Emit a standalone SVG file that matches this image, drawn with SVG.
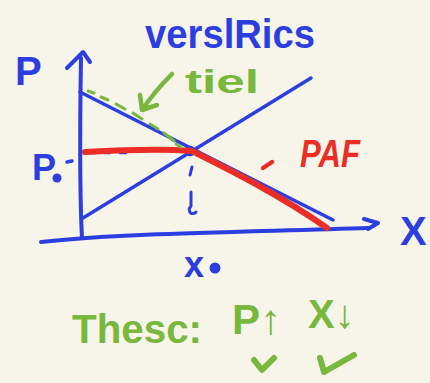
<svg xmlns="http://www.w3.org/2000/svg" width="430" height="383" viewBox="0 0 430 383">
<style>
.b{stroke:#2c3ee0;fill:none;stroke-linecap:round;stroke-linejoin:round}
.g{stroke:#78b83c;fill:none;stroke-linecap:round;stroke-linejoin:round}
.r{stroke:#ea2e26;fill:none;stroke-linecap:round;stroke-linejoin:round}
.t{font-family:"Liberation Sans",Arial,sans-serif;font-weight:bold}
.tb{fill:#2c3ee0}.tg{fill:#78b83c}.tr{fill:#ea2e26}
</style>
<rect width="430" height="383" fill="#f7f4ea"/>
<g id="axes">
<path class="b" stroke-width="4" d="M81,58 C80,120 79,180 82,238"/>
<path class="b" stroke-width="4" d="M67,68 L83,52 L90,62"/>
<path class="b" stroke-width="4" d="M41,242 C120,233 250,232 368,228"/>
<path class="b" stroke-width="4" d="M364,219 L378,223 L368,229"/>
</g>
<g id="demand"><path class="b" stroke-width="3.5" d="M80,92 L333,220"/></g>
<g id="supply"><path class="b" stroke-width="3.5" d="M83,218 L311,78"/></g>
<g id="guides">
<path class="b" stroke-width="2.5" d="M88,153 L96,153 M104,153 L110,153 M120,153 L126,153"/>
<path class="b" stroke-width="3" d="M192,167 L190,175 M191,192 L191,206 C186,212 193,216 196,212"/>
<circle cx="190" cy="151" r="4" class="b" stroke-width="2.5"/>
</g>
<g id="paf-line">
<path class="r" stroke-width="6" d="M85,152 C120,150 160,148 192,151 C230,170 280,195 327,228"/>
</g>
<g id="green-dash">
<path class="g" stroke-width="3" d="M88,91 L94,93 M101,97 L108,100 M116,104 L125,109 M133,113 L142,119 M150,124 L158,129 M164,133 L174,141 M176,144 L181,147"/>
</g>
<g id="green-arrow">
<path class="g" stroke-width="4.5" d="M172,74 C160,86 150,98 142,110 M140,95 L142,110 L157,105"/>
</g>
<g id="labels">
<text class="t tb" x="145" y="48" font-size="40" textLength="170" lengthAdjust="spacingAndGlyphs">verslRics</text>
<text class="t tg" x="185" y="93" font-size="34" textLength="74" lengthAdjust="spacingAndGlyphs">tiel</text>
<text class="t tb" x="15" y="85" font-size="40">P</text>
<text class="t tb" x="32" y="180" font-size="36">P</text>
<circle cx="57" cy="178" r="4.5" fill="#2c3ee0"/>
<path class="b" stroke-width="3.5" d="M67,162 L72,161"/>
<path class="r" stroke-width="4.5" d="M263,168 L272,162"/>
<text class="t tr" x="300" y="167" font-size="38" font-style="italic" textLength="60" lengthAdjust="spacingAndGlyphs">PAF</text>
<text class="t tb" x="400" y="245" font-size="40">X</text>
<text class="t tb" x="184" y="277" font-size="36">x</text>
<circle cx="215" cy="268" r="5.5" fill="#2c3ee0"/>
<text class="t tg" x="72" y="343" font-size="40" textLength="130" lengthAdjust="spacingAndGlyphs">Thesc:</text>
<text class="t tg" x="232" y="334" font-size="42">P↑</text>
<text class="t tg" x="308" y="328" font-size="40">X↓</text>
<path class="g" stroke-width="6" d="M254,360 L262,370 L274,358"/>
<path class="g" stroke-width="6" d="M320,358 L324,372 L354,355"/>
</g>
</svg>
